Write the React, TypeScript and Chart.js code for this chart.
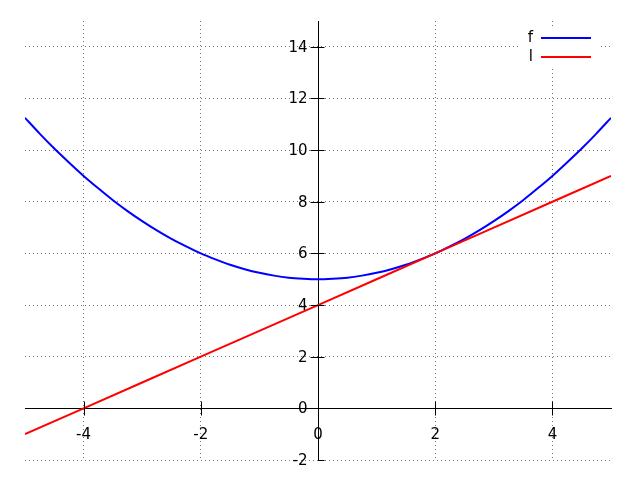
import { useEffect, useRef } from "react";
import { Chart, registerables } from "chart.js";
Chart.register(...registerables);

const seriesNames = ["f", "l"];
const fX = [-5, -4.75, -4.5, -4.25, -4, -3.75, -3.5, -3.25, -3, -2.75, -2.5, -2.25, -2, -1.75, -1.5, -1.25, -1, -0.75, -0.5, -0.25, 0,
  0.25, 0.5, 0.75, 1, 1.25, 1.5, 1.75, 2, 2.25, 2.5, 2.75, 3, 3.25, 3.5, 3.75, 4, 4.25, 4.5, 4.75, 5];
const fValues = [11.25, 10.64, 10.06, 9.52, 9.0, 8.52, 8.06, 7.64, 7.25, 6.89, 6.56, 6.27, 6.0, 5.77, 5.56, 5.39, 5.25, 5.14, 5.06, 5.02, 5.0,
  5.02, 5.06, 5.14, 5.25, 5.39, 5.56, 5.77, 6.0, 6.27, 6.56, 6.89, 7.25, 7.64, 8.06, 8.52, 9.0, 9.52, 10.06, 10.64, 11.25];
const lX = [-5, -4, -3, -2, -1, 0, 1, 2, 3, 4, 5];
const lValues = [-1, 0, 1, 2, 3, 4, 5, 6, 7, 8, 9];
const xTicks = [-4, -2, 0, 2, 4];
const yTicks = [-2, 0, 2, 4, 6, 8, 10, 12, 14];

const FONT = "DejaVu Sans";
const FONT_SIZE = 15;

const crossTicks = {
  id: "crossTicks",
  afterDatasetsDraw(chart: any) {
    const { ctx, scales } = chart;
    const xs = scales.x;
    const ys = scales.y;
    const x0 = Math.round(xs.getPixelForValue(0)) + 0.5;
    const y0 = Math.round(ys.getPixelForValue(0)) + 0.5;
    ctx.save();
    ctx.strokeStyle = "#000";
    ctx.lineWidth = 1;
    ctx.beginPath();
    for (const v of xTicks) {
      const px = Math.round(xs.getPixelForValue(v)) + 0.5;
      ctx.moveTo(px, y0 - 7);
      ctx.lineTo(px, y0 + 7);
    }
    for (const v of yTicks) {
      const py = Math.round(ys.getPixelForValue(v)) + 0.5;
      ctx.moveTo(v === yTicks[0] ? x0 : x0 - 8, py);
      ctx.lineTo(x0 + 6, py);
    }
    ctx.stroke();
    // y tick labels, placed left of the centred y axis
    ctx.font = `${FONT_SIZE}px "${FONT}"`;
    ctx.fillStyle = "#000";
    ctx.textAlign = "right";
    ctx.textBaseline = "middle";
    for (const t of ys.ticks) {
      const py = ys.getPixelForValue(t.value);
      ctx.fillText(String(t.label ?? t.value), x0 - 11, py + 1);
    }
    ctx.restore();
  },
};

const keyBox = {
  id: "keyBox",
  afterDraw(chart: any) {
    const { ctx } = chart;
    const colors = chart.data.datasets.map((d: any) => d.borderColor);
    ctx.save();
    ctx.fillStyle = "#fff";
    ctx.fillRect(519, 27, 80, 40);
    ctx.font = `${FONT_SIZE}px "${FONT}"`;
    ctx.textAlign = "right";
    ctx.textBaseline = "middle";
    seriesNames.forEach((name, i) => {
      const y = 38 + i * 19;
      ctx.fillStyle = "#000";
      ctx.fillText(name, 533, y);
      ctx.strokeStyle = colors[i];
      ctx.lineWidth = 2;
      ctx.beginPath();
      ctx.moveTo(541, y);
      ctx.lineTo(591, y);
      ctx.stroke();
    });
    ctx.restore();
  },
};

export default function App() {
  const ref = useRef<HTMLCanvasElement>(null);
  useEffect(() => {
    document.body.style.margin = "0";
    const chart = new Chart(ref.current!, {
      type: "line",
      data: {
        datasets: [
          {
            label: seriesNames[0],
            data: fX.map((x, i) => ({ x, y: fValues[i] })),
            borderColor: "#0000ff",
            borderWidth: 2,
            pointRadius: 0,
            tension: 0.3,
            order: 1,
          },
          {
            label: seriesNames[1],
            data: lX.map((x, i) => ({ x, y: lValues[i] })),
            borderColor: "#ff0000",
            borderWidth: 2,
            pointRadius: 0,
            order: 0,
          },
        ],
      },
      options: {
        animation: false,
        responsive: false,
        layout: { padding: { left: 25, right: 29, top: 21, bottom: 20 } },
        plugins: { legend: { display: false }, tooltip: { enabled: false } },
        scales: {
          x: {
            type: "linear",
            min: -5,
            max: 5,
            position: { y: 0 } as any,
            afterBuildTicks: (s: any) => {
              s.ticks = xTicks.map((v) => ({ value: v }));
            },
            grid: { color: "rgba(0,0,0,0.55)", lineWidth: 1, drawTicks: false },
            border: { display: true, color: "#000", width: 1, dash: [1, 3] },
            ticks: { color: "#000", padding: 18, font: { family: FONT, size: FONT_SIZE }, maxRotation: 0 },
          },
          y: {
            type: "linear",
            min: -2,
            max: 15,
            position: { x: 0 } as any,
            afterBuildTicks: (s: any) => {
              s.ticks = yTicks.map((v) => ({ value: v }));
            },
            grid: { color: "rgba(0,0,0,0.55)", lineWidth: 1, drawTicks: false },
            border: { display: true, color: "#000", width: 1, dash: [1, 3] },
            ticks: { display: false, font: { family: FONT, size: FONT_SIZE } },
          },
        },
      },
      plugins: [crossTicks, keyBox],
    });
    return () => chart.destroy();
  }, []);
  return (
    <div style={{ width: 640, height: 480 }}>
      <canvas ref={ref} width={640} height={480} />
    </div>
  );
}
